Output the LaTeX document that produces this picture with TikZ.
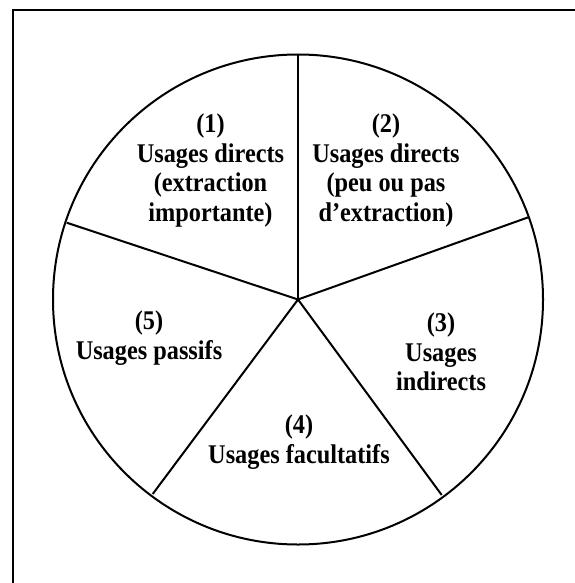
\documentclass[tikz,border=0pt]{standalone}
\usepackage{fontspec}
\setmainfont{Liberation Serif}[FakeStretch=0.9]
\begin{document}
\begin{tikzpicture}[x=1pt,y=-1pt,
  frameline/.style={line width=2pt,line cap=rect},
  pieline/.style={line width=2pt},
  label/.style={align=center,inner sep=0pt,font=\bfseries\fontsize{27}{29.5}\selectfont}]
\useasboundingbox (0,0) rectangle (574,583);
% frame (only top and left edges visible)
\coordinate (fbl) at (12.5,583);
\coordinate (ftl) at (12.5,10);
\coordinate (ftr) at (574,10);
\draw[frameline] (fbl) -- (ftl) -- (ftr);
% pie
\coordinate (c) at (298,299.5);
\draw[pieline] (c) circle[radius=245];
\coordinate (p1) at (298,54.5);
\coordinate (p2) at (528.3,217.3);
\coordinate (p3) at (441.7,495);
\coordinate (p4) at (152.7,494);
\coordinate (p5) at (66.7,222.7);
\foreach \p in {p1,p2,p3,p4,p5} \draw[pieline] (c) -- (\p);
% labels
\node[label] (t1) at (210.5,170.6) {(1)\\Usages directs\\(extraction\\importante)};
\node[label] (t2) at (386,170.6) {(2)\\Usages directs\\(peu ou pas\\d’extraction)};
\node[label] (t3) at (441,352) {(3)\\Usages\\indirects};
\node[label] (t4) at (299,442) {(4)\\Usages facultatifs};
\node[label] (t5) at (149,338) {(5)\\Usages passifs};
\end{tikzpicture}
\end{document}
